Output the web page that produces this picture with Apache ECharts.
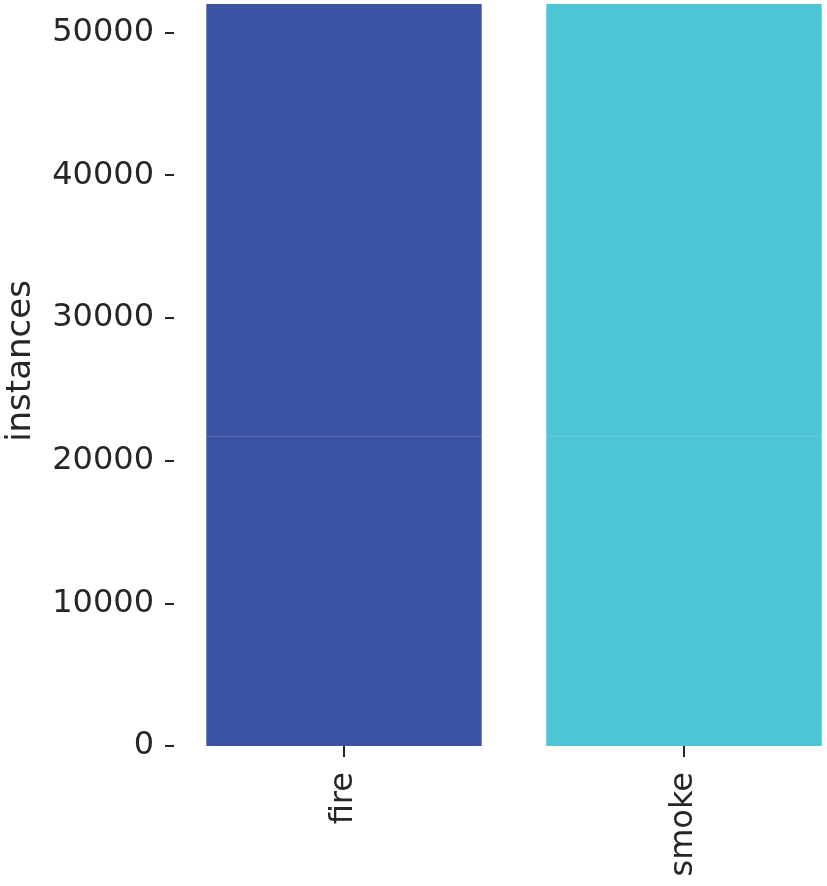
<!DOCTYPE html>
<html>
<head>
<meta charset="utf-8">
<script src="https://cdn.jsdelivr.net/npm/echarts@6/dist/echarts.min.js"></script>
<style>html,body{margin:0;padding:0;background:#fff;}#chart{width:827px;height:886px;}</style>
</head>
<body>
<div id="chart"></div>
<script>
const categories = ['fire', 'smoke'];
const instances = [52000, 52000];
const barColors = ['#3C53A4', '#4DC5D5'];
const yTicks = [0, 10000, 20000, 30000, 40000, 50000];
const faintLineValue = 21700;

const chart = echarts.init(document.getElementById('chart'), null, {renderer: 'canvas'});
const font = 'DejaVu Sans';
chart.setOption({
  animation: false,
  backgroundColor: '#ffffff',
  grid: {left: 174, top: 4, bottom: 140, right: -27, containLabel: false, outerBoundsMode: 'none'},
  xAxis: {
    type: 'category',
    data: categories,
    axisLine: {show: false},
    axisTick: {show: true, alignWithLabel: true, length: 11, lineStyle: {color: '#262626', width: 2}},
    axisLabel: {rotate: 90, margin: 26, color: '#262626', fontSize: 32, fontFamily: font}
  },
  yAxis: {
    type: 'value',
    min: 0,
    max: 52000,
    interval: 10000,
    name: 'instances',
    nameLocation: 'middle',
    nameGap: 136,
    nameTextStyle: {color: '#262626', fontSize: 34, fontFamily: font, padding: [0, 0, 0, 28]},
    axisLine: {show: false},
    splitLine: {show: false},
    axisTick: {show: true, length: 9, customValues: yTicks, lineStyle: {color: '#262626', width: 2}},
    axisLabel: {margin: 20, color: '#262626', fontSize: 32, fontFamily: font, customValues: yTicks,
      formatter: v => String(v)}
  },
  series: [{
    type: 'bar',
    data: instances.map((v, i) => ({value: v, itemStyle: {color: barColors[i]}})),
    barCategoryGap: '19%',
    markLine: {
      silent: true,
      symbol: 'none',
      label: {show: false},
      lineStyle: {color: 'rgba(255,255,255,0.12)', type: 'solid', width: 1},
      data: [{yAxis: faintLineValue}]
    }
  }]
});
</script>
</body>
</html>
